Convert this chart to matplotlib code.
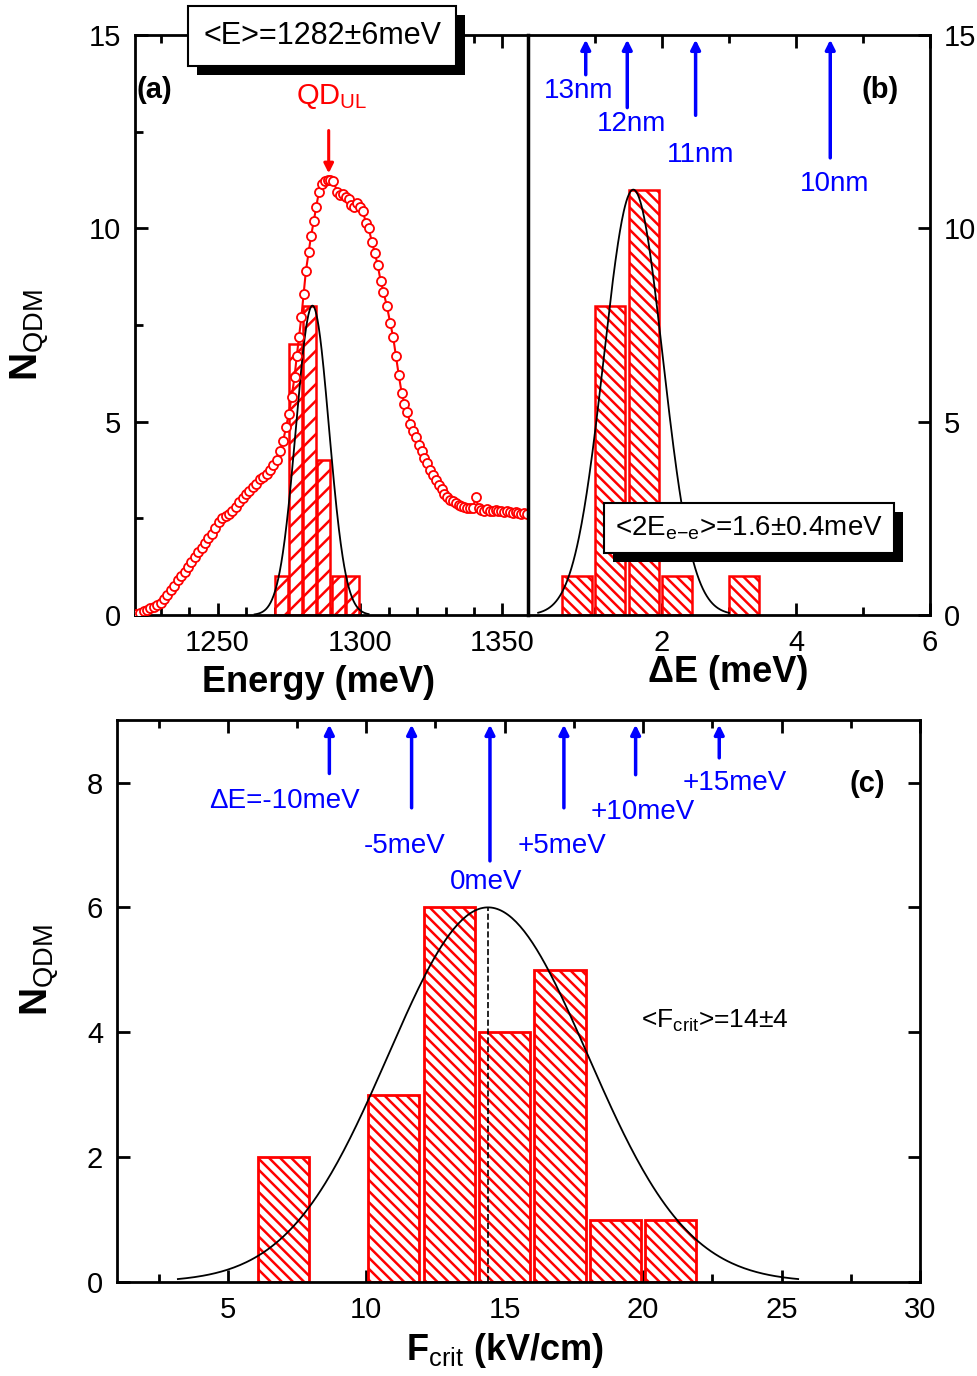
import numpy as np
import matplotlib
matplotlib.use("Agg")
import matplotlib.pyplot as plt
import matplotlib.patheffects as pe
from matplotlib.ticker import MultipleLocator

plt.rcParams['font.family'] = ['Liberation Sans', 'DejaVu Sans']
plt.rcParams['mathtext.fontset'] = 'custom'
plt.rcParams['mathtext.rm'] = 'Liberation Sans'
plt.rcParams['mathtext.bf'] = 'Liberation Sans:bold'
plt.rcParams['hatch.linewidth'] = 1.8

# ---- panel (a): energy histogram + PL spectrum ----
energy_bin_left = [1270, 1275, 1280, 1285, 1290, 1295]
energy_counts = [1, 7, 8, 4, 1, 1]
energy_fit = dict(center=1283.3, sigma=5.8, height=8.0, lo=1263, hi=1303)

pl_energy = [1221.5, 1222.8, 1224.0, 1225.2, 1226.4, 1227.6, 1228.8, 1230.0, 1231.2, 1232.4,
             1233.6, 1234.8, 1236.0, 1237.2, 1238.4, 1239.6, 1240.8, 1242.0, 1243.2, 1244.4,
             1245.6, 1246.8, 1248.0, 1249.2, 1250.4, 1251.6, 1252.8, 1254.0, 1255.2, 1256.4,
             1257.6, 1258.8, 1260.0, 1261.2, 1262.4, 1263.6, 1264.8, 1266.0, 1267.2, 1268.4,
             1269.6, 1270.8, 1272.0, 1273.0, 1274.0, 1275.0, 1276.0, 1277.0, 1277.8, 1278.6,
             1279.4, 1280.2, 1281.0, 1282.0, 1282.8, 1283.8, 1284.6, 1285.6, 1286.6, 1287.6,
             1288.6, 1289.6, 1290.6, 1292.0, 1293.0, 1294.0, 1295.0, 1296.0, 1297.0, 1298.0,
             1299.0, 1300.0, 1301.0, 1302.0, 1303.0, 1304.2, 1305.2, 1306.2, 1307.2, 1308.2,
             1309.4, 1310.6, 1311.6, 1312.6, 1313.6, 1314.6, 1315.6, 1316.6, 1317.6, 1318.6,
             1319.6, 1320.6, 1321.6, 1322.6, 1323.6, 1324.6, 1325.6, 1326.6, 1327.6, 1328.6,
             1329.6, 1330.6, 1331.6, 1332.6, 1333.6, 1334.6, 1335.6, 1336.6, 1337.6, 1338.6,
             1339.6, 1340.6, 1341.6, 1342.6, 1343.6, 1344.6, 1345.6, 1346.6, 1347.6, 1348.6,
             1349.6, 1350.6, 1351.6, 1352.6, 1353.6, 1354.6, 1355.6, 1356.6, 1357.6, 1358.6]
pl_intensity = [0.02, 0.05, 0.10, 0.13, 0.18, 0.22, 0.26, 0.32, 0.42, 0.52,
                0.64, 0.76, 0.90, 1.02, 1.12, 1.25, 1.38, 1.50, 1.62, 1.74,
                1.86, 1.98, 2.10, 2.24, 2.40, 2.52, 2.56, 2.62, 2.70, 2.80,
                2.92, 3.02, 3.12, 3.22, 3.30, 3.40, 3.52, 3.58, 3.66, 3.76,
                3.88, 4.02, 4.25, 4.50, 4.85, 5.20, 5.65, 6.15, 6.70, 7.20,
                7.70, 8.30, 8.90, 9.40, 9.80, 10.20, 10.55, 10.95, 11.15, 11.22,
                11.25, 11.25, 11.22, 10.95, 10.85, 10.90, 10.80, 10.75, 10.60, 10.55,
                10.65, 10.55, 10.45, 10.15, 10.00, 9.65, 9.35, 9.05, 8.65, 8.35,
                8.00, 7.55, 7.20, 6.70, 6.20, 5.75, 5.45, 5.25, 4.95, 4.75,
                4.60, 4.40, 4.25, 4.05, 3.92, 3.75, 3.62, 3.48, 3.36, 3.25,
                3.12, 3.05, 2.98, 2.95, 2.90, 2.85, 2.82, 2.80, 2.78, 2.78,
                2.76, 3.05, 2.76, 2.72, 2.70, 2.74, 2.70, 2.68, 2.72, 2.70,
                2.68, 2.66, 2.70, 2.66, 2.64, 2.67, 2.64, 2.62, 2.64, 2.62]

# ---- panel (b): splitting histogram ----
split_bin_left = [0.5, 1.0, 1.5, 2.0, 3.0]
split_counts = [1, 8, 11, 1, 1]
split_fit = dict(center=1.57, sigma=0.44, height=11.0, lo=0.15, hi=3.0)
size_labels = ['13nm', '12nm', '11nm', '10nm']
size_pos = [0.86, 1.48, 2.50, 4.51]
size_tail = [13.9, 13.05, 12.85, 11.75]
size_text_xy = [(0.76, 13.55), (1.55, 12.7), (2.58, 11.9), (4.57, 11.15)]

# ---- panel (c): critical field histogram ----
field_bin_left = [6, 10, 12, 14, 16, 18, 20]
field_counts = [2, 3, 6, 4, 5, 1, 1]
field_fit = dict(center=14.4, sigma=3.6, height=6.0, lo=3.2, hi=25.6)
de_labels = ['ΔE=-10meV', '-5meV', '0meV', '+5meV', '+10meV', '+15meV']
de_pos = [8.67, 11.64, 14.47, 17.14, 19.73, 22.75]
de_tail = [8.1, 7.55, 6.7, 7.55, 8.08, 8.35]
de_text_xy = [(7.06, 7.71), (11.4, 6.99), (14.34, 6.4), (17.07, 6.99), (20.0, 7.52), (23.3, 8.0)]

RED = '#ff0000'
BLUE = '#0000ff'
TICK_FS = 21


def gauss_curve(fit):
    x = np.linspace(fit['lo'], fit['hi'], 300)
    y = fit['height'] * np.exp(-0.5 * ((x - fit['center']) / fit['sigma']) ** 2)
    return x, y


def style_axis(ax):
    for s in ax.spines.values():
        s.set_linewidth(2)
    ax.tick_params(which='both', direction='in', top=True, labelsize=TICK_FS, pad=10)
    ax.tick_params(which='major', length=9, width=2)
    ax.tick_params(which='minor', length=6, width=2)


def shadow_box(ax, x, y, text, fs, pad=0.4):
    t = ax.text(x, y, text, transform=ax.transAxes, ha='center', va='center', fontsize=fs,
                zorder=10, clip_on=False,
                bbox=dict(boxstyle='square,pad=%s' % pad, fc='white', ec='black', lw=1.5))
    t.get_bbox_patch().set_path_effects([
        pe.SimplePatchShadow(offset=(6.5, -6.5), shadow_rgbFace='black', alpha=1.0),
        pe.Normal()])
    return t


fig = plt.figure(figsize=(9.78, 13.76), dpi=100)

# ---------------- (a) ----------------
ax_a = fig.add_axes([0.138, 0.553, 0.402, 0.4216])
ax_a.bar(energy_bin_left, energy_counts, width=4.6, align='edge', color='white',
         edgecolor=RED, hatch='//', lw=1.8, zorder=2)
xa, ya = gauss_curve(energy_fit)
ax_a.plot(xa, ya, color='black', lw=1.3, zorder=3)
ax_a.plot(pl_energy, pl_intensity, '-o', color=RED, lw=1.5, ms=6.5, mfc='white',
          mec=RED, mew=1.3, zorder=4)
ax_a.set_xlim(1221, 1359)
ax_a.set_ylim(0, 15)
ax_a.xaxis.set_major_locator(MultipleLocator(50))
ax_a.xaxis.set_minor_locator(MultipleLocator(10))
ax_a.yaxis.set_major_locator(MultipleLocator(5))
ax_a.yaxis.set_minor_locator(MultipleLocator(2.5))
style_axis(ax_a)
ax_a.tick_params(which='both', right=False)
ax_a.text(0.05, 0.905, '(a)', transform=ax_a.transAxes, ha='center', va='center',
          fontsize=21, fontweight='bold')
ax_a.text(1290, 13.4, r'QD$_{\mathrm{UL}}$', color=RED, fontsize=21, ha='center', va='center')
ax_a.annotate('', xy=(1289, 11.35), xytext=(1289, 12.6),
              arrowprops=dict(arrowstyle='-|>', color=RED, lw=2.2, mutation_scale=14))
shadow_box(ax_a, 0.476, 0.998, '<E>=1282±6meV', 22, pad=0.5)

# ---------------- (b) ----------------
ax_b = fig.add_axes([0.540, 0.553, 0.411, 0.4216])
ax_b.bar(split_bin_left, split_counts, width=0.45, align='edge', color='white',
         edgecolor=RED, hatch='\\\\\\', lw=1.8, zorder=2)
xb, yb = gauss_curve(split_fit)
ax_b.plot(xb, yb, color='black', lw=1.3, zorder=3)
ax_b.set_xlim(0, 6)
ax_b.set_ylim(0, 15)
ax_b.set_xticks([0, 2, 4, 6])
ax_b.set_xticklabels(['', '2', '4', '6'])
ax_b.xaxis.set_minor_locator(MultipleLocator(1))
ax_b.yaxis.set_major_locator(MultipleLocator(5))
style_axis(ax_b)
ax_b.tick_params(which='both', left=False, labelleft=False, right=True, labelright=True)
ax_b.spines['left'].set_linewidth(2.5)
for lab, xp, yt, (tx, ty) in zip(size_labels, size_pos, size_tail, size_text_xy):
    ax_b.annotate('', xy=(xp, 14.95), xytext=(xp, yt),
                  arrowprops=dict(arrowstyle='-|>', color=BLUE, lw=2.5, mutation_scale=14))
    ax_b.text(tx, ty, lab, color=BLUE, fontsize=20, ha='center', va='center')
ax_b.text(0.875, 0.905, '(b)', transform=ax_b.transAxes, ha='center', va='center',
          fontsize=21, fontweight='bold')
shadow_box(ax_b, 0.55, 0.15, r'<2E$_{\mathrm{e{-}e}}$>=1.6±0.4meV', 20)

# ---------------- (c) ----------------
ax_c = fig.add_axes([0.1196, 0.0683, 0.8211, 0.4084])
centers = [b + 1.0 for b in field_bin_left]
ax_c.bar(centers, field_counts, width=1.85, color='white', edgecolor=RED,
         hatch='\\\\\\', lw=2, zorder=2)
xc, yc = gauss_curve(field_fit)
ax_c.plot(xc, yc, color='black', lw=1.3, zorder=3)
ax_c.plot([field_fit['center'], field_fit['center']], [0, field_fit['height']],
          color='black', lw=1.2, ls='--', zorder=3)
ax_c.set_xlim(1, 30)
ax_c.set_ylim(0, 9)
ax_c.xaxis.set_major_locator(MultipleLocator(5))
ax_c.xaxis.set_minor_locator(MultipleLocator(2.5))
ax_c.set_yticks([0, 2, 4, 6, 8])
style_axis(ax_c)
ax_c.tick_params(which='both', right=True)
for lab, xp, yt, (tx, ty) in zip(de_labels, de_pos, de_tail, de_text_xy):
    ax_c.annotate('', xy=(xp, 8.97), xytext=(xp, yt),
                  arrowprops=dict(arrowstyle='-|>', color=BLUE, lw=2.5, mutation_scale=14))
    ax_c.text(tx, ty, lab, color=BLUE, fontsize=20, ha='center', va='center')
ax_c.text(28.1, 7.98, '(c)', ha='center', va='center', fontsize=21, fontweight='bold')
ax_c.text(22.6, 4.19, r'<F$_{\mathrm{crit}}$>=14±4', ha='center', va='center', fontsize=19)

# ---------------- axis labels ----------------
fig.text(318 / 978, 1 - 682 / 1376, 'Energy (meV)', ha='center', va='center',
         fontsize=26, fontweight='bold')
fig.text(728 / 978, 1 - 672 / 1376, 'ΔE (meV)', ha='center', va='center',
         fontsize=26, fontweight='bold')
fig.text(505 / 978, 1 - 1350 / 1376, r'$\mathbf{F}_{\mathrm{crit}}$ (kV/cm)', ha='center',
         va='center', fontsize=26, fontweight='bold')
fig.text(30 / 978, 1 - 335 / 1376, r'$\mathbf{N}_{\mathrm{QDM}}$', rotation=90,
         ha='center', va='center', fontsize=28)
fig.text(40 / 978, 1 - 970 / 1376, r'$\mathbf{N}_{\mathrm{QDM}}$', rotation=90,
         ha='center', va='center', fontsize=28)

fig.savefig('out.png', dpi=100)
